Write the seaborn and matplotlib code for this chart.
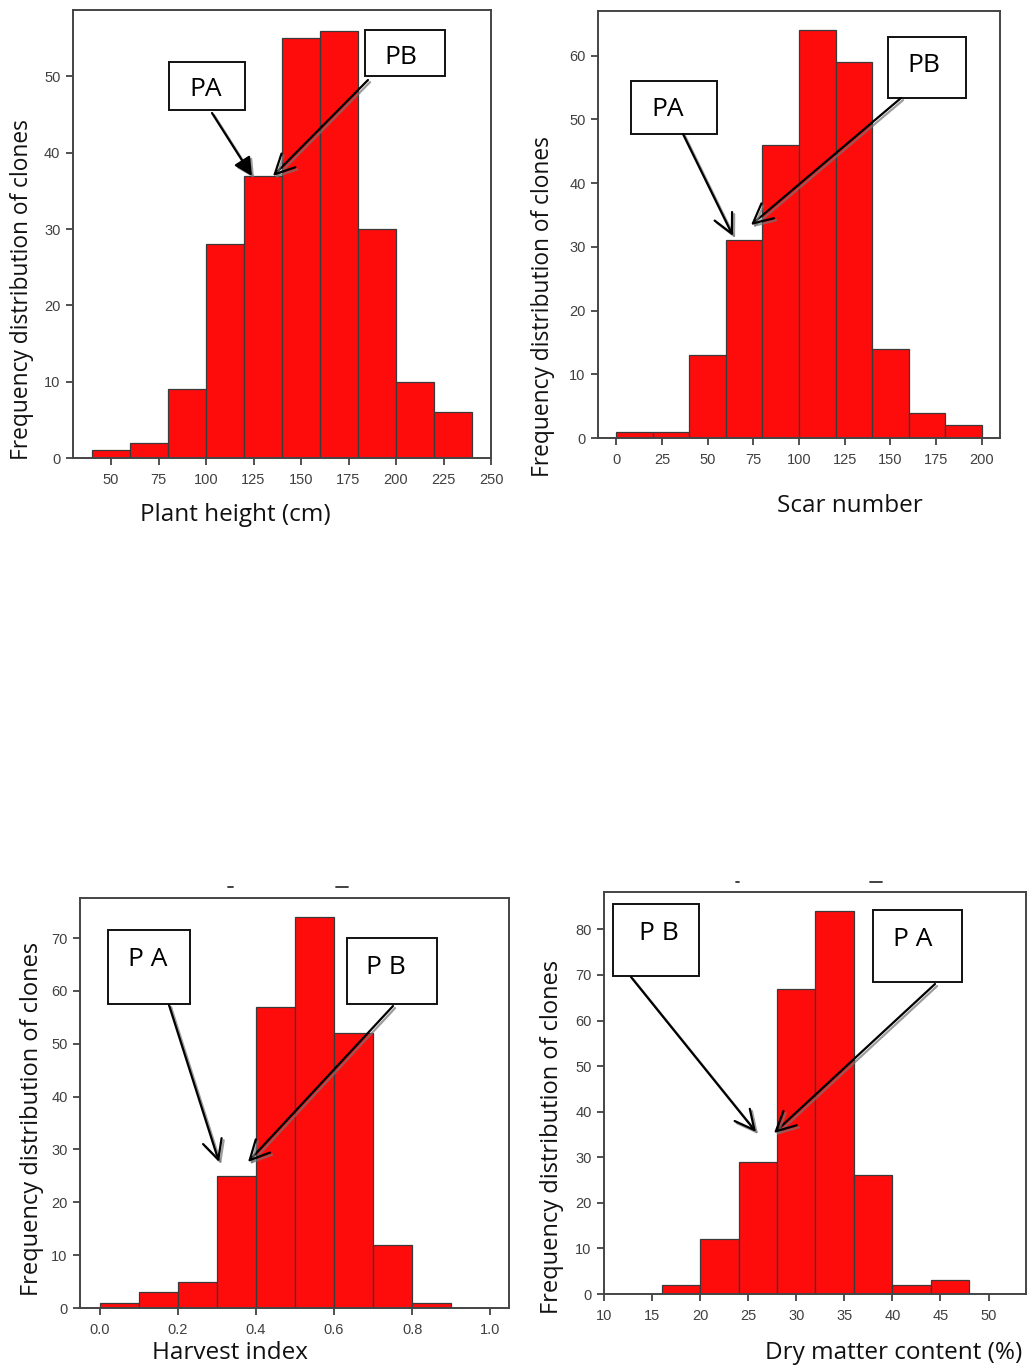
import numpy as np
import pandas as pd
import seaborn as sns
import matplotlib
matplotlib.use("Agg")
import matplotlib.pyplot as plt
import matplotlib.patheffects as pe
from matplotlib.patches import FancyArrowPatch, Rectangle
from matplotlib.lines import Line2D

# ---------------- data ----------------
height_edges = [40, 60, 80, 100, 120, 140, 160, 180, 200, 220, 240]
height_counts = [1, 2, 9, 28, 37, 55, 56, 30, 10, 6]
height_xticks = [50, 75, 100, 125, 150, 175, 200, 225, 250]
height_yticks = [0, 10, 20, 30, 40, 50]

scar_edges = [0, 20, 40, 60, 80, 100, 120, 140, 160, 180, 200]
scar_counts = [1, 1, 13, 31, 46, 64, 59, 14, 4, 2]
scar_xticks = [0, 25, 50, 75, 100, 125, 150, 175, 200]
scar_yticks = [0, 10, 20, 30, 40, 50, 60]

hi_edges = [0.0, 0.1, 0.2, 0.3, 0.4, 0.5, 0.6, 0.7, 0.8, 0.9]
hi_counts = [1, 3, 5, 25, 57, 74, 52, 12, 1]
hi_xticks = [0.0, 0.2, 0.4, 0.6, 0.8, 1.0]
hi_yticks = [0, 10, 20, 30, 40, 50, 60, 70]

dm_edges = [16, 20, 24, 28, 32, 36, 40, 44, 48]
dm_counts = [2, 12, 29, 67, 84, 26, 2, 3]
dm_xticks = [10, 15, 20, 25, 30, 35, 40, 45, 50]
dm_yticks = [0, 10, 20, 30, 40, 50, 60, 70, 80]

ylabel_text = "Frequency distribution of clones"
xlabels = ["Plant height (cm)", "Scar number", "Harvest index", "Dry matter content (%)"]

# ---------------- figure ----------------
W, H = 1032, 1371
sns.set_style("white")
plt.rcParams["font.family"] = ["Liberation Sans", "DejaVu Sans"]

fig = plt.figure(figsize=(W / 100, H / 100), dpi=100)
fig.patch.set_facecolor("white")


def P(x, y):
    return (x / W, 1 - y / H)


def add_ax(l, t, r, b):
    return fig.add_axes([l / W, 1 - b / H, (r - l) / W, (b - t) / H])


BAR = "#FE0C0C"
EDGE = "#3a3a3a"
SPINE = "#444444"
LABEL_FONT = ["Open Sans", "DejaVu Sans"]


def draw_hist(ax, edges, counts, xticks, yticks, xlim, ylim):
    e = np.asarray(edges, dtype=float)
    centers = (e[:-1] + e[1:]) / 2
    df = pd.DataFrame({"x": centers, "w": np.asarray(counts, dtype=float)})
    sns.histplot(data=df, x="x", weights="w", bins=list(edges), ax=ax,
                 color=BAR, edgecolor=EDGE, linewidth=0.9, alpha=1.0)
    ax.set_xlim(*xlim)
    ax.set_ylim(*ylim)
    ax.set_xticks(xticks)
    ax.set_yticks(yticks)
    ax.set_xlabel("")
    ax.set_ylabel("")
    for s in ax.spines.values():
        s.set_visible(True)
        s.set_color(SPINE)
        s.set_linewidth(1.4)
    ax.tick_params(axis="both", direction="out", length=5, width=1.2,
                   color="#333333", labelsize=10.5, labelcolor="#404040",
                   bottom=True, left=True, top=False, right=False)
    ax.tick_params(axis="x", pad=6)
    ax.tick_params(axis="y", pad=4)
    ax.set_facecolor("white")


ax1 = add_ax(73, 10, 491, 458)
draw_hist(ax1, height_edges, height_counts, height_xticks, height_yticks, (30, 250), (0, 58.7))
ax2 = add_ax(598, 11, 1000, 438)
draw_hist(ax2, scar_edges, scar_counts, scar_xticks, scar_yticks, (-10, 210), (0, 67))
ax3 = add_ax(80, 898, 509, 1308)
draw_hist(ax3, hi_edges, hi_counts, hi_xticks, hi_yticks, (-0.05, 1.048), (0, 77.6))
ax4 = add_ax(604, 892, 1026, 1294)
draw_hist(ax4, dm_edges, dm_counts, dm_xticks, dm_yticks, (10, 53.9), (0, 88.2))

# axis titles placed like the reference
for (x, y), t in zip([(235, 515), (850, 506), (230, 1353), (894, 1353)], xlabels):
    fig.text(*P(x, y), t, ha="center", va="center", fontsize=17.5,
             family=LABEL_FONT, color="#111111")
for (x, y), fs in zip([(22, 290), (543, 307), (32, 1119), (552, 1137)],
                      [16.4, 16.4, 17, 17]):
    fig.text(*P(x, y), ylabel_text, ha="center", va="center", rotation=90,
             fontsize=fs, family=LABEL_FONT, color="#111111")


# ---------------- annotation boxes and arrows ----------------
def box(x0, y0, x1, y1, text, tx, ty):
    fig.add_artist(Rectangle(P(x0, y1), (x1 - x0) / W, (y1 - y0) / H,
                             transform=fig.transFigure, facecolor="white",
                             edgecolor="#111111", linewidth=1.4, zorder=5))
    fig.text(*P(tx, ty), text, ha="center", va="center", fontsize=19,
             family=LABEL_FONT, color="black", zorder=6)


def arrow(x0, y0, x1, y1, filled=False):
    style = ("-|>,head_length=0.55,head_width=0.28" if filled
             else "->,head_length=0.7,head_width=0.35")
    a = FancyArrowPatch(P(x0, y0), P(x1, y1), transform=fig.transFigure,
                        arrowstyle=style, mutation_scale=20, color="black",
                        linewidth=1.6, shrinkA=0, shrinkB=0, zorder=7,
                        path_effects=[pe.SimpleLineShadow(offset=(1.5, -1.5),
                                                          shadow_color="0.45", alpha=0.7),
                                      pe.Normal()])
    fig.add_artist(a)


# panel 1
box(169, 62, 245, 110, "PA", 206, 90)
box(365, 30, 445, 76, "PB", 401, 58)
arrow(212, 113, 252, 176, filled=True)
arrow(368, 80, 273, 176)
# panel 2
box(631, 81, 717, 134, "PA", 668, 109)
box(888, 37, 966, 98, "PB", 924, 66)
arrow(683, 134, 733, 236)
arrow(901, 98, 751, 225)
# panel 3
box(108, 930, 190, 1004, "P A", 148, 960)
box(347, 938, 437, 1004, "P B", 386, 968)
arrow(169, 1005, 219, 1162)
arrow(393, 1006, 248, 1162)
# panel 4
box(613, 904, 699, 976, "P B", 659, 933)
box(873, 910, 962, 982, "P A", 913, 939)
arrow(631, 977, 756, 1132)
arrow(935, 984, 774, 1133)

# remnants of cropped titles above the lower panels
for (xa, xb, y) in [(228, 233, 887), (336, 348, 887), (736, 739, 882), (870, 882, 882)]:
    fig.add_artist(Line2D([xa / W, xb / W], [1 - y / H, 1 - y / H],
                          transform=fig.transFigure, color="#333333", linewidth=1.3))

fig.savefig("out.png", dpi=100, facecolor="white")
